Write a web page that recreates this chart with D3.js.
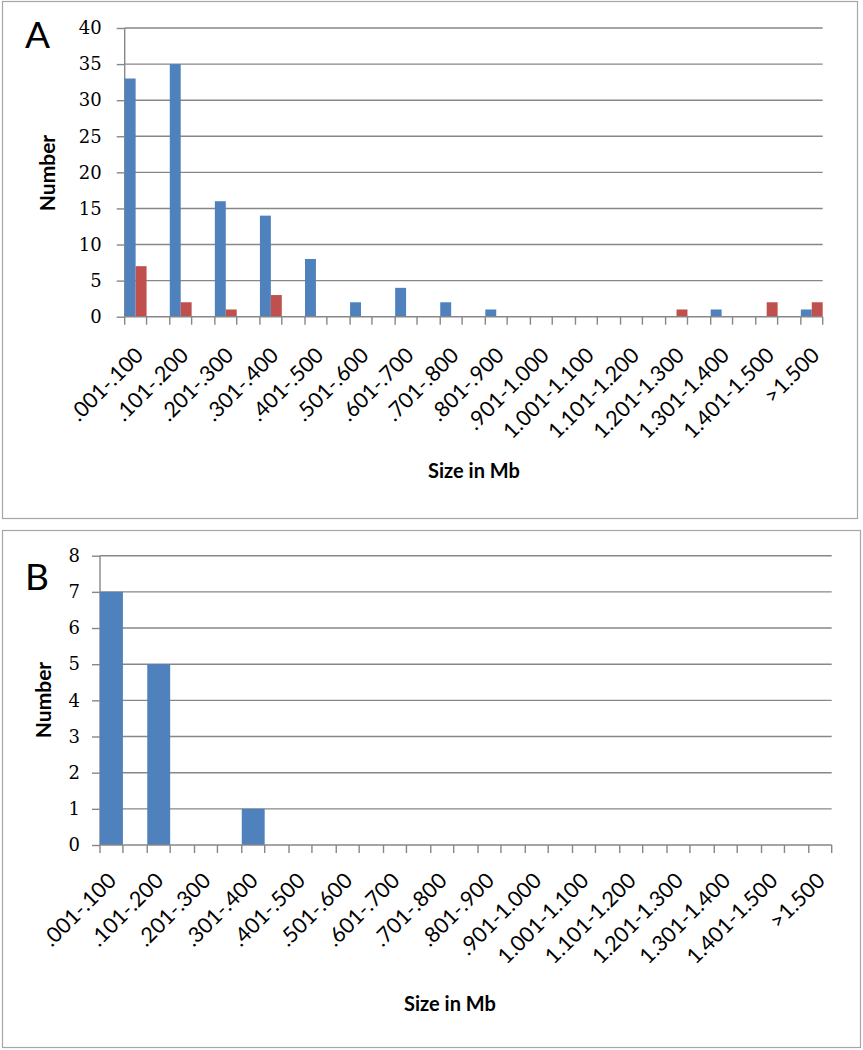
<!DOCTYPE html>
<html>
<head>
<meta charset="utf-8">
<script src="https://cdn.jsdelivr.net/npm/d3@7"></script>
<style>
  html, body { margin: 0; padding: 0; background: #fff; }
  svg { display: block; }
</style>
</head>
<body>
<svg id="chart" width="863" height="1050"></svg>
<script>
// ---- data ----
const categories = [".001-.100", ".101-.200", ".201-.300", ".301-.400", ".401-.500", ".501-.600",
  ".601-.700", ".701-.800", ".801-.900", ".901-1.000", "1.001-1.100", "1.101-1.200",
  "1.201-1.300", "1.301-1.400", "1.401-1.500", ">1.500"];
const seriesABlue = [33, 35, 16, 14, 8, 2, 4, 2, 1, 0, 0, 0, 0, 1, 0, 1];
const seriesARed  = [7, 2, 1, 3, 0, 0, 0, 0, 0, 0, 0, 0, 1, 0, 2, 2];
const seriesBBlue = [7, 5, 0, 1, 0, 0, 0, 0, 0, 0, 0, 0, 0, 0, 0, 0];
const yTicksA = [0, 5, 10, 15, 20, 25, 30, 35, 40];
const yTicksB = [0, 1, 2, 3, 4, 5, 6, 7, 8];
const seriesColors = ["#4F81BD", "#C0504D"];

const svg = d3.select("#chart");
const gridColor = "#878787";

function drawPanel(p) {
  const g = svg.append("g");
  // panel border
  g.append("rect").attr("x", p.box[0] + 0.5).attr("y", p.box[1] + 0.5)
    .attr("width", p.box[2] - p.box[0]).attr("height", p.box[3] - p.box[1])
    .attr("fill", "#fff").attr("stroke", "#a6a6a6").attr("stroke-width", 1.2);

  // panel letter
  g.append("text").attr("x", p.letterPos[0]).attr("y", p.letterPos[1])
    .attr("font-family", "Lato, 'Open Sans', sans-serif").attr("font-size", 37)
    .attr("fill", "#000").text(p.letter);

  const x = d3.scaleBand().domain(categories).range([p.left, p.right])
    .paddingInner(0.515).paddingOuter(0);
  const y = d3.scaleLinear().domain([0, p.yMax]).range([p.bottom, p.top]);
  const inner = d3.scaleBand().domain(d3.range(p.series.length)).range([0, x.bandwidth()]);

  // gridlines
  g.append("g").selectAll("line").data(p.yTicks.filter(t => t > 0)).join("line")
    .attr("x1", p.left).attr("x2", p.right)
    .attr("y1", d => y(d)).attr("y2", d => y(d))
    .attr("stroke", gridColor).attr("stroke-width", 1.4);

  // y axis
  const yAxis = g.append("g").attr("transform", `translate(${p.left},0)`)
    .call(d3.axisLeft(y).tickValues(p.yTicks).tickSize(8).tickPadding(p.yPad).tickFormat(d3.format("d")));
  yAxis.select(".domain").attr("stroke", gridColor).attr("stroke-width", 1.4).attr("d", `M0,${p.bottom}V${p.top}`);
  yAxis.selectAll(".tick line").attr("stroke", gridColor).attr("stroke-width", 1.4);
  yAxis.selectAll(".tick text").attr("font-family", "'DejaVu Serif', serif")
    .attr("font-size", 18).attr("fill", "#000");

  // bars
  p.series.forEach((vals, si) => {
    g.append("g").selectAll("rect")
      .data(categories.map((c, i) => ({ c, v: vals[i] })).filter(d => d.v > 0))
      .join("rect")
      .attr("x", d => x(d.c) + inner(si))
      .attr("width", inner.bandwidth())
      .attr("y", d => y(d.v))
      .attr("height", d => y(0) - y(d.v))
      .attr("fill", seriesColors[si]);
  });

  // x axis baseline & ticks
  g.append("line").attr("x1", p.left).attr("x2", p.right).attr("y1", p.bottom).attr("y2", p.bottom)
    .attr("stroke", gridColor).attr("stroke-width", 1.4);
  const tickXs = [];
  categories.forEach(c => { tickXs.push(x(c)); tickXs.push(x(c) + x.bandwidth()); });
  g.append("g").selectAll("line").data(tickXs).join("line")
    .attr("x1", d => d).attr("x2", d => d).attr("y1", p.bottom).attr("y2", p.bottom + 8)
    .attr("stroke", gridColor).attr("stroke-width", 1.4);

  // x tick labels, rotated
  g.append("g").selectAll("text").data(categories).join("text")
    .attr("transform", d => `translate(${x(d) + x.bandwidth() / 2 + p.lblDx},${p.bottom + p.lblDy}) rotate(-45)`)
    .attr("text-anchor", "end")
    .attr("font-family", "Lato, 'Open Sans', sans-serif").attr("font-size", 21.5)
    .attr("fill", "#000").text(d => d);

  // axis titles
  g.append("text")
    .attr("transform", `translate(${p.yTitle[0]},${p.yTitle[1]}) rotate(-90)`)
    .attr("text-anchor", "middle").attr("font-family", "Lato, 'Open Sans', sans-serif")
    .attr("font-weight", "bold").attr("font-size", 21).attr("fill", "#000").text("Number");
  g.append("text").attr("x", p.xTitle[0]).attr("y", p.xTitle[1])
    .attr("text-anchor", "middle").attr("font-family", "Lato, 'Open Sans', sans-serif")
    .attr("font-weight", "bold").attr("font-size", 20).attr("fill", "#000").text("Size in Mb");
}

drawPanel({
  box: [2, 1, 857, 518], letter: "A", letterPos: [25, 48],
  left: 124.7, right: 822.7, top: 28, bottom: 316.7, yMax: 40, yTicks: yTicksA, yPad: 15,
  series: [seriesABlue, seriesARed], lblDx: 9, lblDy: 40,
  yTitle: [55, 173], xTitle: [474, 478]
});

drawPanel({
  box: [2, 530, 860, 1047], letter: "B", letterPos: [25, 590],
  left: 100, right: 831.7, top: 555.7, bottom: 845, yMax: 8, yTicks: yTicksB, yPad: 12,
  series: [seriesBBlue], lblDx: 6, lblDy: 37,
  yTitle: [51, 700], xTitle: [450, 1011]
});
</script>
</body>
</html>
